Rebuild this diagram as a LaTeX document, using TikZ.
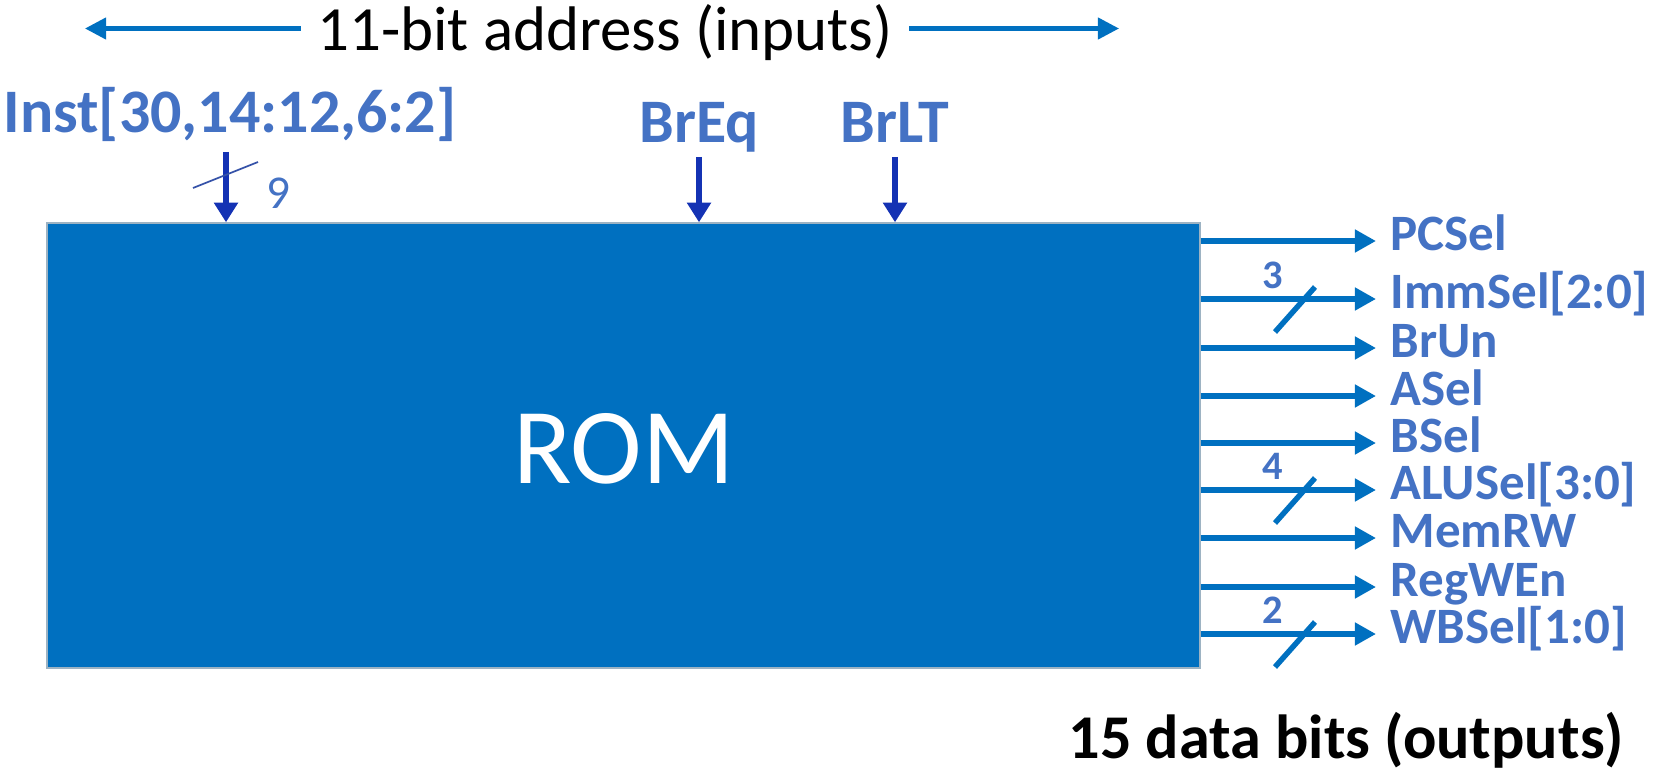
\documentclass[tikz,border=0pt]{standalone}
\usepackage{fontspec}
\setmainfont{Carlito}
\usetikzlibrary{arrows.meta}
\definecolor{romblue}{HTML}{0070C0}
\definecolor{lblblue}{HTML}{4472C4}
\definecolor{inblue}{HTML}{1432B4}
\definecolor{romedge}{HTML}{9DB3C3}
\definecolor{slashblue}{HTML}{3552A8}
\begin{document}
\begin{tikzpicture}[x=0.01cm,y=-0.01cm,
  toparrow/.style={draw=romblue, line width=1.2pt, -{Triangle[length=6pt,width=6pt]}},
  inarrow/.style={draw=inblue, line width=1.5pt, -{Triangle[length=5.6pt,width=6.6pt]}},
  outarrow/.style={draw=romblue, line width=1.55pt, -{Triangle[length=6pt,width=6.2pt]}},
  busslash/.style={draw=romblue, line width=1.55pt},
  thinslash/.style={draw=slashblue, line width=0.5pt},
  outlbl/.style={text=lblblue, font=\bfseries\fontsize{14.5}{15}\selectfont, inner sep=0pt, anchor=base west},
  inlbl/.style={text=lblblue, font=\bfseries\fontsize{17.6}{18}\selectfont, inner sep=0pt, anchor=base},
  cntlbl/.style={text=lblblue, font=\bfseries\fontsize{11.5}{12}\selectfont, inner sep=0pt},
  romstyle/.style={fill=romblue, draw=romedge, line width=0.6pt}
]
\useasboundingbox (0,0) rectangle (1658,773);

% title with double arrow
\node[font=\fontsize{17.9}{20}\selectfont, inner sep=0pt, anchor=base] (addr) at (605,51) {11-bit address (inputs)};
\coordinate (addrL) at (85,28.5);
\coordinate (addrR) at (1119,28.5);
\draw[toparrow] ([xshift=-4.5pt]addr.west |- addrL) -- (addrL);
\draw[toparrow] ([xshift=4.5pt]addr.east |- addrR) -- (addrR);

% ROM block
\path[romstyle] (47,223) rectangle (1200,668);
\node[inner sep=0pt, minimum width=1153*0.01cm, minimum height=445*0.01cm] (rom) at (623.5,445.5) {};
\node[text=white, font=\fontsize{30.7}{32}\selectfont, inner sep=0pt] (romtxt) at (624,449) {ROM};

% inputs
\node[inlbl, anchor=base west] (inst) at (3,133) {Inst[30,14:12,6:2]};
\node[inlbl] (breq) at (699.5,143) {BrEq};
\node[inlbl] (brlt) at (895,143) {BrLT};
\coordinate (instIn) at (226,152);
\coordinate (eqIn) at (699,157);
\coordinate (ltIn) at (895,157);
\draw[inarrow] (instIn) -- (instIn |- rom.north);
\draw[inarrow] (eqIn) -- (eqIn |- rom.north);
\draw[inarrow] (ltIn) -- (ltIn |- rom.north);
\coordinate (s9a) at (193,188);
\coordinate (s9b) at (258,162);
\draw[thinslash] (s9a) -- (s9b);
\node[text=lblblue, font=\fontsize{13.4}{14}\selectfont, inner sep=0pt] (nine) at (278,193) {9};

% outputs
\foreach \y/\t/\i in {241/PCSel/1, 299/{ImmSel[2:0]}/2, 348/BrUn/3, 396/ASel/4, 443/BSel/5, 490/{ALUSel[3:0]}/6, 538/MemRW/7, 587/RegWEn/8, 634/{WBSel[1:0]}/9}{
  \coordinate (t\i) at (1376,\y);
  \draw[outarrow] (rom.east |- t\i) -- (t\i);
  \node[outlbl] (o\i) at (1390,{\y+9}) {\t};
}
\foreach \i/\n in {2/3, 6/4, 9/2}{
  \draw[busslash] ([shift={(-101,33)}]t\i) -- ([shift={(-61,-12)}]t\i);
  \node[cntlbl] (c\i) at ([shift={(-103,-24)}]t\i) {\n};
}

\node[font=\bfseries\fontsize{17.7}{19}\selectfont, inner sep=0pt, anchor=base west] (databits) at (1068,758) {15 data bits (outputs)};
\end{tikzpicture}
\end{document}
